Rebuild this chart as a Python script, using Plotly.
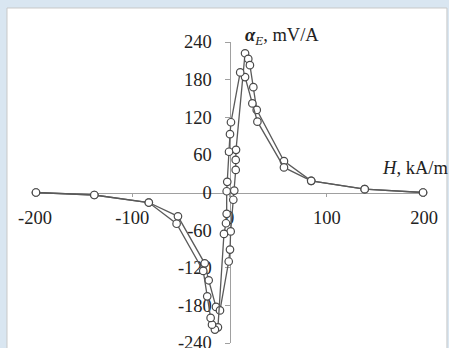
import plotly.graph_objects as go

# Sweep from -200 up to +200 kA/m
H_up = [-199, -139, -83, -53, -25.5, -21.4, -13.9, -9.8, -0.8, 0.5, 1.2, 3.9, 4.9, 6.4, 6.4, 6.7,
        16, 19.3, 21, 24.5, 28, 56, 84, 139, 199]
A_up = [0, -4, -16, -38, -113, -140, -182.5, -188, -110, -91, -62, -11.6, 3, 36, 52, 68,
        222, 213, 203, 168, 131.7, 50, 18.6, 5.3, 0]

# Sweep from +200 down to -200 kA/m
H_down = [199, 139, 84, 56, 28.7, 23.5, 16, 11, 1.5, 0.5, -0.5, -2.3, -2.9, -2.9, -3.6, -5.7,
          -11.9, -15, -18, -19.4, -22.9, -27, -54.4, -83, -139, -199]
A_down = [0, 5.3, 18.6, 40, 113, 142, 184, 191.5, 112, 93, 65, 17, 2, -34, -49, -66,
          -215, -218.6, -210.7, -200, -165.6, -125, -49.8, -16, -4, 0]

x_ticks = [-200, -100, 0, 100, 200]
x_tick_text = ["-200", "-100", "0", "100", "200"]
y_ticks = [-240, -180, -120, -60, 0, 60, 120, 180, 240]
y_tick_text = ["-240", "-180", "-120", "-60", "0", "60", "120", "180", "240"]

LINE = "#5a5a5a"
FONT = "Liberation Serif"
BG = "#d9e6f1"

fig = go.Figure()
for hx, ay in [(H_up, A_up), (H_down, A_down)]:
    fig.add_trace(go.Scatter(
        x=hx, y=ay, mode="lines+markers",
        line=dict(color=LINE, width=1.3),
        marker=dict(symbol="circle", size=7.5, color="white",
                    line=dict(color="#4a4a4a", width=1.2)),
        cliponaxis=False, showlegend=False, hoverinfo="skip"))

fig.update_layout(
    width=449, height=348,
    margin=dict(l=35, r=25, t=42, b=5),
    paper_bgcolor=BG,
    plot_bgcolor="rgba(0,0,0,0)",
    font=dict(family=FONT, size=18.5, color="#222"),
    showlegend=False,
    xaxis=dict(range=[-200, 200], anchor="free", position=0.5, automargin=False,
               showgrid=False, zeroline=False, showline=True,
               linecolor="#a0a0a0", linewidth=1,
               ticks="outside", ticklen=3, tickcolor="#a0a0a0",
               tickvals=x_ticks, ticktext=x_tick_text,
               ticklabelstandoff=5, ticklabeloverflow="allow",
               layer="below traces"),
    yaxis=dict(range=[-240, 240], anchor="free", position=0.5, automargin=False,
               showgrid=False, zeroline=False, showline=True,
               linecolor="#a0a0a0", linewidth=1,
               ticks="outside", ticklen=5, tickcolor="#a0a0a0",
               tickvals=y_ticks, ticktext=y_tick_text,
               ticklabelstandoff=9, ticklabeloverflow="allow",
               layer="below traces"),
    shapes=[dict(type="rect", xref="paper", yref="paper",
                 x0=-0.072, x1=1.059, y0=-0.05, y1=1.113,
                 fillcolor="white", line=dict(color="#c8c8c8", width=1),
                 layer="below")],
    annotations=[
        dict(x=0.535, y=1.017, xref="paper", yref="paper", xanchor="left", yanchor="middle",
             text="<b><i>α</i></b><sub><i>E</i></sub>, mV/A", showarrow=False,
             font=dict(family=FONT, size=18.5, color="#222")),
        dict(x=0.887, y=0.581, xref="paper", yref="paper", xanchor="left", yanchor="middle",
             text="<i>H</i>, kA/m", showarrow=False,
             font=dict(family=FONT, size=18.5, color="#222")),
    ],
)

fig.write_html(
    "out.html",
    config={"displayModeBar": False, "staticPlot": True},
    post_script=("document.body.style.margin='0';document.body.style.padding='0';"
                 "document.body.style.overflow='hidden';"
                 "document.body.style.background='" + BG + "';"),
)
